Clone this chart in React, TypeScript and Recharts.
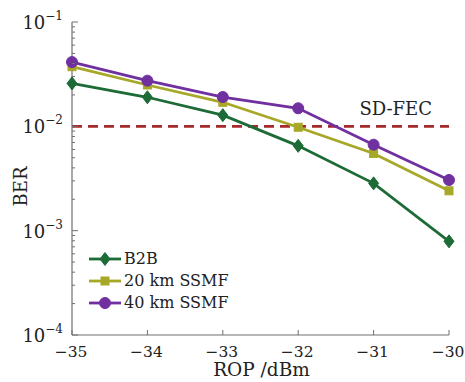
import React from "react";
import {
  LineChart,
  Line,
  XAxis,
  YAxis,
  ReferenceLine,
  Legend,
} from "recharts";

const FONT = '"DejaVu Serif", serif';

// ROP in dBm
const rop = [-35, -34, -33, -32, -31, -30];
// BER values
const b2b = [0.0258, 0.019, 0.0128, 0.0065, 0.00284, 0.00079];
const km20 = [0.0373, 0.0249, 0.017, 0.0098, 0.0055, 0.00241];
const km40 = [0.0413, 0.0274, 0.0191, 0.0149, 0.00667, 0.00306];

const fecLimit = 0.01;

const xTicks = [-35, -34, -33, -32, -31, -30];
const decades = [1e-4, 1e-3, 1e-2, 1e-1];
const minorMult = [2, 3, 4, 5, 6, 7, 8, 9];

const SERIES = [
  { key: "b2b", label: "B2B", color: "#1d6b36", shape: "diamond" },
  { key: "km20", label: "20 km SSMF", color: "#a8a828", shape: "square" },
  { key: "km40", label: "40 km SSMF", color: "#7030a0", shape: "circle" },
];

const data = rop.map((x, i) => ({
  rop: x,
  b2b: b2b[i],
  km20: km20[i],
  km40: km40[i],
}));

const yTicks: number[] = [];
decades.forEach((d, i) => {
  yTicks.push(d);
  if (i < decades.length - 1) minorMult.forEach((m) => yTicks.push(d * m));
});

const AXIS = "#707070";
const TEXT = "#222";

const isDecade = (v: number) =>
  Math.abs(Math.log10(v) - Math.round(Math.log10(v))) < 1e-6;

function Marker({ cx, cy, shape, color }: any) {
  if (cx == null || cy == null) return null;
  if (shape === "diamond") {
    return (
      <polygon
        points={`${cx},${cy - 6.5} ${cx + 5},${cy} ${cx},${cy + 6.5} ${cx - 5},${cy}`}
        fill={color}
        stroke={color}
      />
    );
  }
  if (shape === "square") {
    return <rect x={cx - 4} y={cy - 4} width={8} height={8} fill={color} stroke={color} />;
  }
  return <circle cx={cx} cy={cy} r={5.5} fill={color} stroke={color} />;
}

function LeftTick({ x, y, payload }: any) {
  const v = payload.value;
  const major = isDecade(v);
  const len = major ? 6 : 3;
  return (
    <g>
      <line x1={x} x2={x + len} y1={y} y2={y} stroke={AXIS} strokeWidth={1} />
      {major && (
        <text x={x - 9} y={y + 7} textAnchor="end" fontFamily={FONT} fontSize={18} fill={TEXT}>
          10
          <tspan dy={-9} fontSize={12}>
            {"\u2212" + Math.abs(Math.round(Math.log10(v)))}
          </tspan>
        </text>
      )}
    </g>
  );
}

function RightTick({ x, y, payload }: any) {
  const len = isDecade(payload.value) ? 6 : 3;
  return <line x1={x} x2={x - len} y1={y} y2={y} stroke={AXIS} strokeWidth={1} />;
}

function BottomTick({ x, y, payload }: any) {
  const v = payload.value;
  return (
    <g>
      <line x1={x} x2={x} y1={y} y2={y - 5} stroke={AXIS} strokeWidth={1} />
      <text x={x - 1} y={y + 22} textAnchor="middle" fontFamily={FONT} fontSize={15.5} fill={TEXT}>
        {v < 0 ? "\u2212" + Math.abs(v) : String(v)}
      </text>
    </g>
  );
}

function TopTick({ x, y }: any) {
  return <line x1={x} x2={x} y1={y} y2={y + 5} stroke={AXIS} strokeWidth={1} />;
}

function LegendBox() {
  return (
    <div style={{ fontFamily: FONT, fontSize: 16, color: TEXT, lineHeight: "22px" }}>
      {SERIES.map((s) => (
        <div key={s.key} style={{ display: "flex", alignItems: "center", height: 22 }}>
          <svg width={34} height={16} style={{ marginRight: 2 }}>
            <line x1={1} x2={33} y1={8} y2={8} stroke={s.color} strokeWidth={2.8} />
            <Marker cx={17} cy={8} shape={s.shape} color={s.color} />
          </svg>
          <span>{s.label}</span>
        </div>
      ))}
    </div>
  );
}

export default function App() {
  return (
    <div style={{ position: "absolute", left: 0, top: 0, width: 465, height: 382, background: "#fff" }}>
      <LineChart
        width={465}
        height={382}
        data={data}
        margin={{ top: 22, right: 16, left: 0, bottom: 0 }}
        style={{ fontFamily: FONT }}
      >
        <XAxis
          dataKey="rop"
          type="number"
          domain={[-35, -30]}
          ticks={xTicks}
          height={47}
          tickSize={0}
          tickMargin={0}
          tickLine={false}
          axisLine={{ stroke: AXIS, strokeWidth: 1.2 }}
          tick={<BottomTick />}
          interval={0}
          label={(p: any) => {
            const vb = p.viewBox;
            return (
              <text
                x={vb.x + vb.width / 2 + 1}
                y={vb.y + 41}
                textAnchor="middle"
                fontFamily={FONT}
                fontSize={18.5}
                fill={TEXT}
              >
                ROP /dBm
              </text>
            );
          }}
        />
        <XAxis
          xAxisId="top"
          dataKey="rop"
          type="number"
          orientation="top"
          domain={[-35, -30]}
          ticks={xTicks}
          height={0}
          tickSize={0}
          tickMargin={0}
          tickLine={false}
          axisLine={{ stroke: AXIS, strokeWidth: 1.2 }}
          tick={<TopTick />}
          interval={0}
        />
        <YAxis
          type="number"
          scale="log"
          domain={[1e-4, 1e-1]}
          allowDataOverflow
          ticks={yTicks}
          width={72}
          tickSize={0}
          tickMargin={0}
          tickLine={false}
          axisLine={{ stroke: AXIS, strokeWidth: 1.2 }}
          tick={<LeftTick />}
          interval={0}
          label={(p: any) => {
            const vb = p.viewBox;
            const cx = 20;
            const cy = vb.y + vb.height / 2 + 8;
            return (
              <text
                x={cx}
                y={cy}
                transform={`rotate(-90 ${cx} ${cy})`}
                textAnchor="middle"
                dominantBaseline="central"
                fontFamily={FONT}
                fontSize={18}
                fill={TEXT}
              >
                BER
              </text>
            );
          }}
        />
        <YAxis
          yAxisId="right"
          orientation="right"
          type="number"
          scale="log"
          domain={[1e-4, 1e-1]}
          allowDataOverflow
          ticks={yTicks}
          width={0}
          tickSize={0}
          tickMargin={0}
          tickLine={false}
          axisLine={{ stroke: AXIS, strokeWidth: 1.2 }}
          tick={<RightTick />}
          interval={0}
        />
        <ReferenceLine
          y={fecLimit}
          stroke="#a8282c"
          strokeWidth={2.6}
          strokeDasharray="10 6"
          label={(p: any) => {
            const vb = p.viewBox;
            return (
              <text
                x={vb.x + vb.width - 17}
                y={vb.y - 11}
                textAnchor="end"
                fontFamily={FONT}
                fontSize={18}
                fill={TEXT}
              >
                SD-FEC
              </text>
            );
          }}
        />
        {SERIES.map((s) => (
          <Line
            key={s.key}
            dataKey={s.key}
            name={s.label}
            type="linear"
            stroke={s.color}
            strokeWidth={2.8}
            dot={(p: any) => <Marker key={`${s.key}-${p.index}`} {...p} shape={s.shape} color={s.color} />}
            activeDot={false}
            isAnimationActive={false}
          />
        ))}
        <Legend
          layout="horizontal"
          verticalAlign="middle"
          align="center"
          content={() => <LegendBox />}
          wrapperStyle={{ left: 88, top: 248, width: "auto" }}
        />
      </LineChart>
    </div>
  );
}
